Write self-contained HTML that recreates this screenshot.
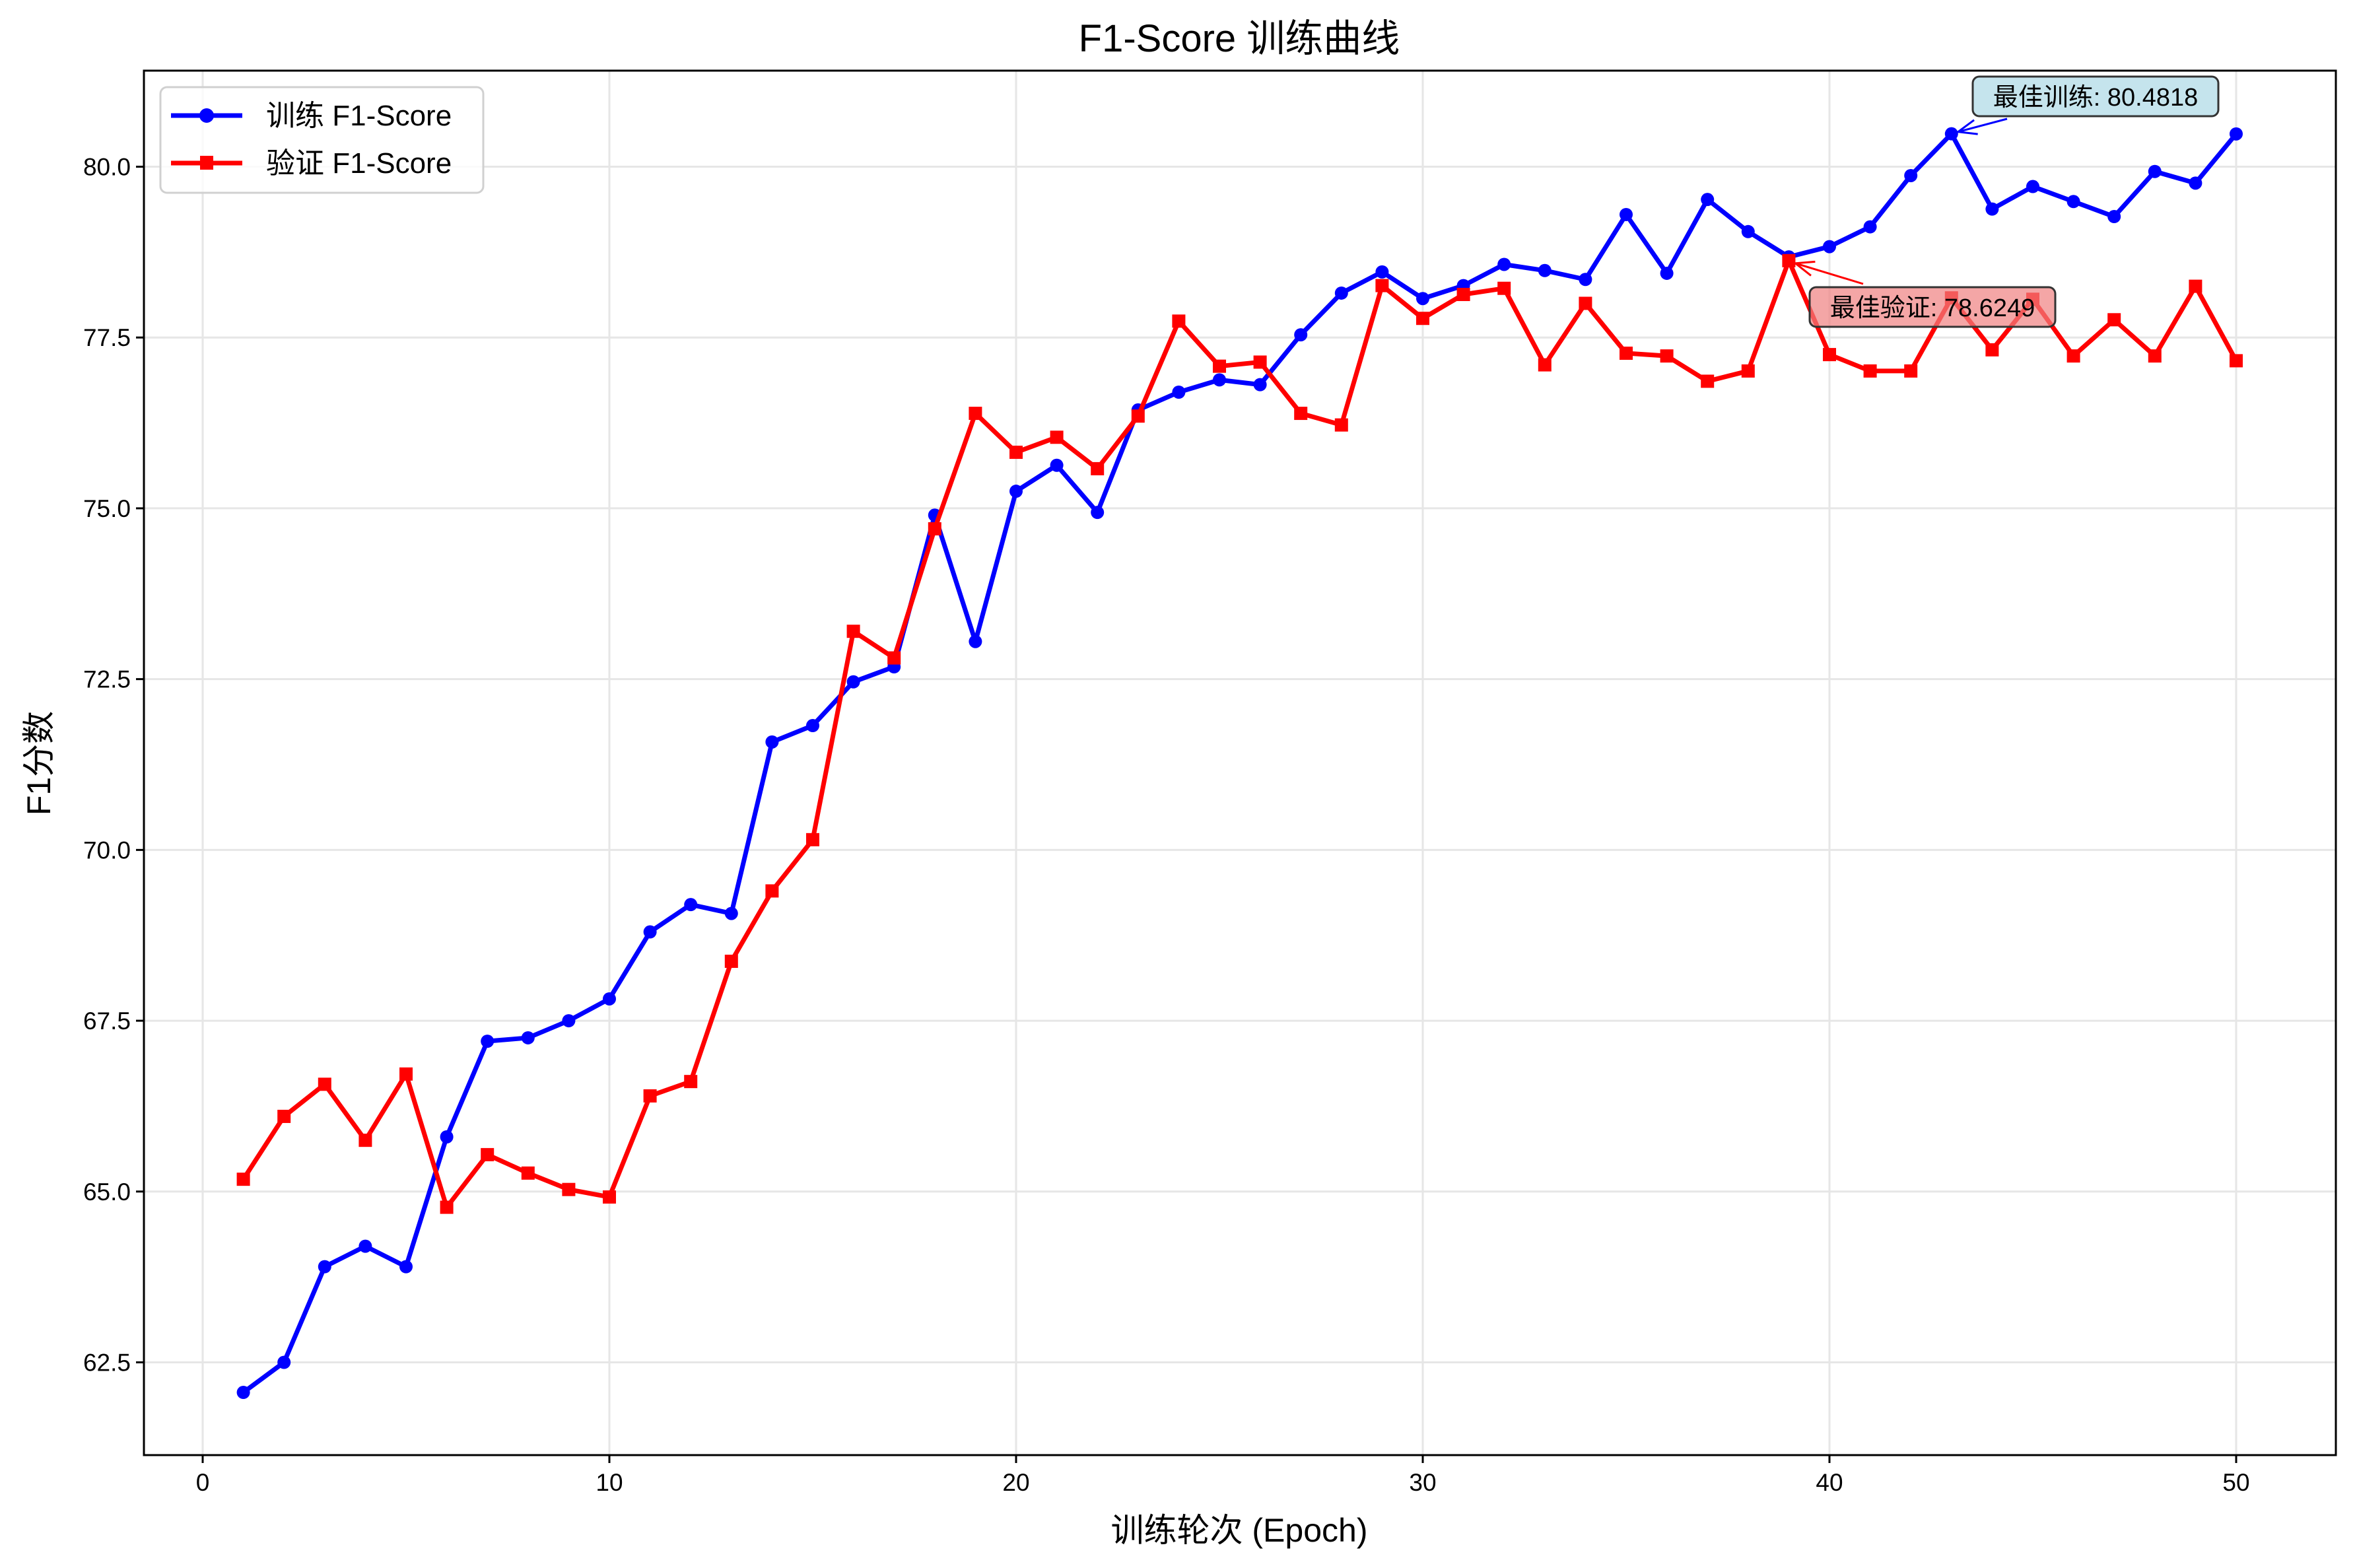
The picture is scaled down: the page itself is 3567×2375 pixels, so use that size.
<!DOCTYPE html>
<html><head><meta charset="utf-8"><style>
html,body{margin:0;padding:0;background:#fff}
svg{display:block}
text{font-family:"Liberation Sans","Noto Sans CJK SC",sans-serif}
</style></head><body>
<svg id="chart" width="3567" height="2375" viewBox="0 0 3567 2375" xmlns="http://www.w3.org/2000/svg">
<rect x="0" y="0" width="3567" height="2375" fill="#fff"/>
<text x="1877" y="78" font-size="58" text-anchor="middle">F1-Score 训练曲线</text>
<g id="grid"></g>
<g id="series"></g>
<rect x="218" y="107" width="3320" height="2097" fill="none" stroke="#000" stroke-width="3"/>
<g id="axes"></g>
<text x="1877" y="2335" font-size="50" text-anchor="middle">训练轮次 (Epoch)</text>
<text transform="translate(76,1156) rotate(-90)" font-size="50" text-anchor="middle">F1分数</text>
<g>
<rect x="243" y="132" width="489" height="160" rx="10" fill="#fff" fill-opacity="0.8" stroke="#d0d0d0" stroke-width="3"/>
<g>
<line x1="259" y1="175" x2="367" y2="175" stroke="#0000ff" stroke-width="7"/>
<circle cx="313" cy="175" r="11" fill="#0000ff"/>
<text x="403" y="190" font-size="44">训练 F1-Score</text>
</g>
<g>
<line x1="259" y1="247" x2="367" y2="247" stroke="#ff0000" stroke-width="7"/>
<rect x="303" y="236" width="20" height="21" fill="#ff0000"/>
<text x="403" y="262" font-size="44">验证 F1-Score</text>
</g>
</g>
<g id="annot"></g>
</svg>
<script>
const epochs = [];
for (let i = 1; i <= 50; i++) epochs.push(i);
const trainF1 = [62.06,62.5,63.9,64.2,63.9,65.8,67.2,67.25,67.5,67.82,68.8,69.2,69.07,71.58,71.82,72.46,72.68,74.9,73.05,75.25,75.63,74.94,76.44,76.7,76.88,76.81,77.54,78.15,78.46,78.07,78.26,78.57,78.48,78.35,79.3,78.44,79.52,79.05,78.68,78.83,79.12,79.87,80.4818,79.38,79.71,79.49,79.27,79.93,79.76,80.48];
const valF1 = [65.18,66.1,66.57,65.75,66.72,64.77,65.54,65.27,65.03,64.92,66.4,66.61,68.37,69.4,70.15,73.2,72.81,74.7,76.39,75.82,76.04,75.58,76.35,77.74,77.08,77.14,76.39,76.22,78.26,77.78,78.13,78.22,77.1,78.0,77.27,77.23,76.86,77.01,78.6249,77.25,77.01,77.01,78.08,77.32,78.06,77.23,77.76,77.23,78.25,77.16];
const xTicks = [0,10,20,30,40,50];
const yTicks = [62.5,65.0,67.5,70.0,72.5,75.0,77.5,80.0];
const yTickLabels = ["62.5","65.0","67.5","70.0","72.5","75.0","77.5","80.0"];

const NS = "http://www.w3.org/2000/svg";
const L=218,R=3538,T=107,B=2204;
function xs(v){return 307 + v*(3387-307)/50;}
function ys(v){return 252.5 + (80-v)*(2063.5-252.5)/17.5;}
function mk(tag,attrs,parent){const e=document.createElementNS(NS,tag);for(const k in attrs)e.setAttribute(k,attrs[k]);parent.appendChild(e);return e;}
const grid=document.getElementById('grid'),axes=document.getElementById('axes'),ser=document.getElementById('series'),ann=document.getElementById('annot');
xTicks.forEach(t=>{
  const g=mk('line',{x1:xs(t),x2:xs(t),y1:T,y2:B,stroke:'#e6e6e6','stroke-width':3},grid);
  
  
  mk('line',{x1:xs(t),x2:xs(t),y1:B,y2:B+12,stroke:'#000','stroke-width':3},axes);
  const tx=mk('text',{x:xs(t),y:B+54,'font-size':37,'text-anchor':'middle'},axes);
  tx.textContent=t;
  
  
});
yTicks.forEach((t,i)=>{
  const g=mk('line',{x1:L,x2:R,y1:ys(t),y2:ys(t),stroke:'#e6e6e6','stroke-width':3},grid);
  
  
  mk('line',{x1:L-12,x2:L,y1:ys(t),y2:ys(t),stroke:'#000','stroke-width':3},axes);
  const tx=mk('text',{x:L-20,y:ys(t)+13,'font-size':37,'text-anchor':'end'},axes);
  tx.textContent=yTickLabels[i];
  
  
});
function drawSeries(vals,color,marker,name){
  const pts=vals.map((v,i)=>xs(epochs[i])+','+ys(v)).join(' ');
  const pl=mk('polyline',{points:pts,fill:'none',stroke:color,'stroke-width':7,'stroke-linejoin':'round'},ser);
  
  
  vals.forEach((v,i)=>{
    let m;
    if(marker==='circle') m=mk('circle',{cx:xs(epochs[i]),cy:ys(v),r:10,fill:color},ser);
    else m=mk('rect',{x:xs(epochs[i])-10,y:ys(v)-10,width:20,height:20,fill:color},ser);
    
    
  });
}
drawSeries(trainF1,'#0000ff','circle','train-f1');
drawSeries(valF1,'#ff0000','square','val-f1');

function annotate(px,py,bx,by,bw,bh,fill,stroke,label,ax,ay,name){
  const g=mk('g',{},ann);
  
  
  mk('line',{x1:ax,y1:ay,x2:px,y2:py,stroke:stroke,'stroke-width':3},g);
  const dx=ax-px,dy=ay-py,len=Math.hypot(dx,dy),ux=dx/len,uy=dy/len;
  const hx=px+ux*28,hy=py+uy*28;
  mk('polyline',{points:(hx-uy*11)+','+(hy+ux*11)+' '+px+','+py+' '+(hx+uy*11)+','+(hy-ux*11),fill:'none',stroke:stroke,'stroke-width':3},g);
  mk('rect',{x:bx,y:by,width:bw,height:bh,rx:10,fill:fill,'fill-opacity':0.7,stroke:'#333','stroke-width':3},g);
  const t=mk('text',{x:bx+bw/2,y:by+bh/2+14,'font-size':38,'text-anchor':'middle'},g);
  t.textContent=label;
}
const bi=trainF1.indexOf(Math.max(...trainF1));
const vi=valF1.indexOf(Math.max(...valF1));
annotate(xs(epochs[bi])+10,ys(trainF1[bi])-3,2988,116,372,60,'#add8e6','#0000ff','最佳训练: '+Math.max(...trainF1).toFixed(4),3040,180,'best-train-annotation');
annotate(xs(epochs[vi])+10,ys(valF1[vi])+4,2741,435,372,60,'#f08080','#ff0000','最佳验证: '+Math.max(...valF1).toFixed(4),2822,430,'best-val-annotation');
</script>
</body></html>
